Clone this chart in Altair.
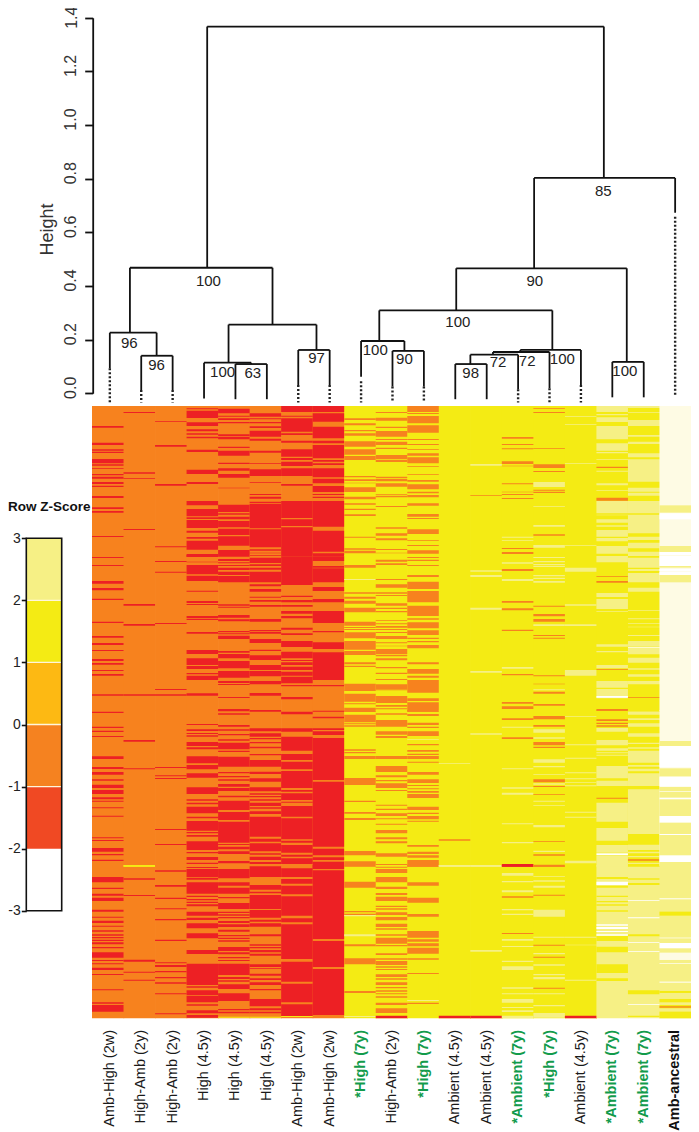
import altair as alt
import pandas as pd

FONT = "Liberation Sans"

# ---------- column labels ----------
labels = ["Amb-High (2w)", "High-Amb (2y)", "High-Amb (2y)", "High (4.5y)", "High (4.5y)", "High (4.5y)",
          "Amb-High (2w)", "Amb-High (2w)", "*High (7y)", "High-Amb (2y)", "*High (7y)", "Ambient (4.5y)",
          "Ambient (4.5y)", "*Ambient (7y)", "*High (7y)", "Ambient (4.5y)", "*Ambient (7y)", "*Ambient (7y)",
          "Amb-ancestral"]

# ---------- dendrogram (left, right, top, low-left, low-right) ----------
merge_left = [1, 2, 4, 5, 4.78, 7, 1.64, 9, 10, 12, 12.48, 13.2, 14.07, 9.58, 17, 12.03, 14.51, 4.10]
merge_right = [2.49, 3, 5.5, 6, 7.58, 8, 6.18, 10.38, 11, 13, 14, 15, 16, 15.09, 18, 17.46, 19, 16.73]
merge_top = [.226, .140, .114, .109, .256, .1615, .468, .195, .158, .109, .144, .154, .1615, .309, .117, .466, .8026, 1.367]
merge_low_l = [.093, .012, -.019, -.022, .114, .031, .226, .062, .025, -.022, .109, .144, .154, .195, -.015, .309, .466, .468]
merge_low_r = [.140, .012, .109, -.022, .1615, .031, .256, .158, .025, -.022, .015, .019, .031, .1615, -.015, .117, .673, .8026]

dot_leaf = [1, 2, 3, 7, 8, 9, 10, 11, 14, 15, 16, 19]
dot_from = [.093, .012, .012, .031, .031, .045, .025, .025, .015, .019, .031, .658]
dot_to = [-.034, -.034, -.034, -.034, -.034, -.034, -.034, -.034, -.034, -.034, -.034, -.012]

boot_text = ["100", "96", "96", "100", "63", "97", "85", "90", "100", "100", "90", "98", "72", "72", "100", "100"]
boot_x = [4.14, 1.62, 2.49, 4.59, 5.55, 7.58, 16.71, 14.53, 12.08, 9.45, 10.38, 12.49, 13.36, 14.29, 15.41, 17.4]
boot_h = [.419, .189, .106, .080, .075, .130, .754, .420, .265, .1615, .128, .075, .116, .120, .128, .084]

# ---------- legend ----------
legend_lo = [-3, -2, -1, 0, 1, 2]
legend_hi = [-2, -1, 0, 1, 2, 3]
legend_colors = ["#FFFFFF", "#F04923", "#F58220", "#FDB913", "#F4EB14", "#F6F085"]
legend_lines = [2, 1, 0, -1]

# ---------- heat map ----------
level_names = ["R", "O", "Y", "P", "C", "W"]
level_colors = ["#ED2024", "#F7821E", "#F4EB14", "#F6F085", "#FEFBE4", "#FFFFFF"]
section_start = [0, 465, 930, 1395]
row_first, row_last = 18, 1855

bases = ["OOOO"] * 8 + ["YYYY"] * 8 + ["YYYP", "YYYP", "CCCP"]

c01 = [{"R": [(78,83),(128,135),(148,152),(155,159),(177,190),(193,197),(205,207),(222,226),(230,236),(246,252),(257,261),(288,294),(322,327),(333,338),(408,411)]},
       {"R": [(6,9),(30,33),(78,86),(99,106),(131,135),(200,204),(243,248),(264,270),(285,288),(312,318),(324,329),(345,348),(357,362),(418,422)]},
       {"R": [(5,9),(50,54),(62,66),(78,81),(139,147),(171,177),(186,194),(208,212),(224,234),(240,252),(262,268),(272,275),(292,295),(317,320),(382,385),(390,393),(414,425),(432,436),(449,453)]},
       {"R": [(36,52),(68,72),(86,92),(98,108),(134,140),(155,158),(167,174),(182,185),(196,200),(208,212),(216,220),(224,228),(232,238),(246,250),(262,278),(285,288),(295,298),(308,315),(327,330),(373,376),(412,416),(420,440)]}]
c02 = [{"R": [(36,39),(217,221),(234,236),(387,390)]},
       {"R": [(147,152),(207,212),(418,422)]},
       {"R": [(90,95),(175,178)], "Y": [(465,470)]},
       {"Y": [(0,5)], "R": [(40,44),(90,93),(284,290),(320,323),(344,347)]}]
c03 = [{"R": [(64,66),(135,140),(252,257),(439,442)]},
       {"R": [(18,21),(50,53),(204,207),(402,405),(418,422)]},
       {"R": [(171,174),(196,199),(204,207),(357,360),(402,405)]},
       {"R": [(16,20),(60,65),(98,102),(130,133),(162,166),(224,228),(292,295),(300,306),(318,322),(336,340),(352,356),(385,388),(445,448)]}]
c04 = [{"R": [(25,28),(32,54),(67,78),(88,94),(100,104),(110,115),(149,156),(209,222),(246,252),(303,316),(327,349),(352,357),(360,384),(392,398),(411,416),(422,449),(462,470)]},
       {"R": [(0,6),(20,22),(30,58),(62,78),(107,110),(138,144),(147,150),(183,190),(192,195),(231,236),(285,297),(310,330),(333,342),(354,358),(362,375),(415,422)]},
       {"R": [(42,45),(58,63),(69,72),(76,80),(96,108),(112,118),(139,160),(165,178),(190,203),(232,252),(268,272),(278,283),(290,310),(320,325),(333,362),(366,370),(375,380),(394,420),(426,430),(441,450),(458,462)]},
       {"R": [(6,9),(12,36),(38,44),(52,86),(92,96),(102,106),(110,114),(118,124),(140,152),(158,165),(175,190),(205,220),(255,267),(296,360),(364,368),(376,390),(392,412),(418,422),(436,445),(450,458)]}]
c05 = [{"R": [(26,40),(47,50),(55,60),(66,70),(103,108),(110,118),(140,144),(152,167),(188,192),(205,212),(222,233),(263,265),(314,336),(340,344),(350,358),(363,382),(386,405),(409,437),(450,470)]},
       {"R": [(12,18),(22,25),(30,33),(38,45),(50,60),(63,82),(148,152),(155,158),(180,188),(193,199),(228,232),(235,238),(242,252),(288,293),(297,310),(318,340),(348,368),(378,384),(387,390),(426,429),(462,468)]},
       {"R": [(0,4),(10,14),(45,50),(58,62),(72,76),(88,92),(98,118),(122,126),(140,170),(186,190),(198,202),(208,212),(222,230),(234,243),(257,262),(272,300),(306,330),(335,398),(402,405),(410,418),(424,432),(453,460)]},
       {"R": [(12,40),(52,62),(68,86),(96,100),(114,132),(140,144),(148,152),(156,160),(168,174),(178,186),(194,200),(210,214),(218,222),(226,230),(246,258),(262,268),(276,280),(285,288),(296,330),(336,342),(346,350),(358,372),(385,408),(432,436),(440,445)], "Y": [(455,458)]}]
c06 = [{"R": [(40,50),(55,58),(66,70),(79,84),(92,110),(116,122),(152,158),(190,192),(208,228),(246,248),(282,285),(290,296),(305,310),(312,385),(388,442),(448,452),(458,460)]},
       {"R": [(0,2),(8,24),(28,33),(38,44),(50,82),(88,94),(102,110),(125,128),(135,140),(150,155),(192,200),(225,228),(230,236),(252,264),(284,288),(301,315),(330,345),(348,364),(378,388),(414,422)]},
       {"R": [(0,5),(55,64),(70,80),(84,88),(96,100),(110,115),(132,136),(150,170),(185,192),(205,215),(232,244),(250,254),(258,262),(268,272),(278,288),(292,296),(304,312),(320,380),(386,395),(400,424),(430,434),(440,450),(456,462)]},
       {"R": [(4,36),(60,74),(80,85),(90,132),(135,158),(164,170),(175,185),(208,214),(238,242),(246,250),(255,262),(266,272),(298,306),(310,312),(326,332),(340,345),(352,360),(372,376),(402,424),(430,436),(440,445)], "Y": [(455,458)]}]
c07 = [{"R": [(18,36),(47,50),(55,95),(100,105),(122,128),(148,170),(174,180),(185,198),(205,228),(252,257),(303,354),(358,378),(382,470)]},
       {"R": [(5,90),(122,126),(135,142),(150,155),(168,176),(183,190),(218,224),(235,240),(258,276),(290,310),(315,318),(322,330),(335,345),(350,362),(365,385),(390,394),(426,433)]},
       {"R": [(5,13),(55,65),(80,122),(132,150),(155,178),(183,234),(240,245),(250,270),(275,278),(288,320),(325,388),(392,398),(405,428),(434,440),(445,462)]},
       {"R": [(10,36),(42,56),(62,88),(94,152),(160,172),(178,282),(290,350),(356,412),(418,453)], "Y": [(453,456)]}]
c08 = [{"R": [(18,36),(40,65),(80,115),(122,130),(135,175),(180,185),(190,195),(205,232),(236,250),(258,276),(282,285),(290,294),(303,380),(392,455),(460,470)]},
       {"R": [(5,18),(33,38),(40,82),(96,108),(132,142),(168,204),(228,232),(262,282),(292,375),(390,394),(467,470)]},
       {"R": [(20,25),(55,60),(64,75),(84,210),(215,410),(416,436),(442,450),(455,476)]},
       {"R": [(0,12),(16,222),(228,306),(312,450)]}]
c09 = [{"O": [(55,60),(70,76),(90,94),(100,107),(124,140),(148,164),(168,180),(228,232),(238,243),(248,250),(262,276),(290,298),(310,314),(326,330),(343,348),(410,413),(445,449),(452,460)]},
       {"O": [(30,38),(112,116),(125,131),(137,146),(158,172),(200,212),(216,219),(222,225),(232,250),(258,284),(288,300),(322,328),(332,336),(386,408),(416,440),(445,448),(458,470)], "P": [(72,75)]},
       {"O": [(0,6),(14,37),(40,43),(46,50),(118,122),(126,130),(138,147),(204,225),(272,276),(306,311),(324,330),(423,436),(454,470)]},
       {"O": [(0,4),(50,68),(138,142),(146,150),(238,244),(280,298),(378,384)], "P": [(150,154),(208,214),(453,456)]}]
c10 = [{"O": [(36,39),(53,62),(80,84),(93,110),(117,120),(125,135),(143,147),(165,178),(180,186),(230,234),(236,244),(250,260),(283,286),(288,292),(318,321),(382,386),(400,407),(415,421),(447,450),(458,460)]},
       {"O": [(14,20),(25,30),(72,75),(88,98),(112,116),(120,123),(145,152),(158,162),(168,172),(196,198),(205,208),(213,218),(222,225),(231,234),(243,252),(262,265),(272,274),(282,298),(300,304),(310,316),(336,340),(353,357),(372,375),(388,402),(403,406),(423,444),(450,455),(460,463)]},
       {"O": [(10,14),(30,50),(64,74),(78,84),(138,147),(168,186),(196,202),(210,214),(220,234),(240,243),(284,287),(296,300),(310,318),(325,328),(341,344),(360,370),(382,388),(394,400),(430,440),(462,465)]},
       {"O": [(5,8),(12,24),(36,52),(65,72),(84,90),(95,108),(122,126),(130,134),(142,150),(156,166),(176,186),(190,194),(208,212),(218,236),(240,244),(265,270),(280,284),(288,300),(304,308),(312,315),(328,336),(340,344),(352,360),(366,370),(376,380),(385,388),(394,398),(413,420),(430,444)], "R": [(452,460)]}]
c11 = [{"O": [(18,36),(39,42),(48,70),(76,98),(117,120),(132,135),(147,149),(160,167),(172,190),(198,200),(222,224),(240,245),(253,268),(275,280),(285,292),(310,317),(342,350),(354,357),(388,402),(420,422),(435,438),(451,461)]},
       {"O": [(6,9),(14,18),(30,33),(60,66),(80,102),(108,142),(152,183),(190,194),(202,220),(226,240),(248,252),(258,262),(270,280),(322,328),(342,356),(362,368),(375,413),(430,438),(442,470)]},
       {"O": [(0,5),(12,18),(38,45),(50,54),(64,78),(102,106),(120,125),(131,135),(138,147),(155,158),(186,194),(208,219),(225,228),(235,238),(243,248),(252,264),(290,300),(308,312),(318,328),(332,335),(405,410),(425,432),(436,443),(450,470)], "P": [(88,90)]},
       {"O": [(0,5),(52,62),(98,113),(147,155),(198,218),(223,230),(235,244),(248,266),(280,284),(324,327),(413,417)], "P": [(405,408)]}]
c12 = [{},
       {},
       {"P": [(159,161),(465,470)], "O": [(388,392)]},
       {"P": [(0,5)], "R": [(452,460)]}]
c13 = [{"P": [(192,197)], "O": [(286,288)]},
       {"P": [(46,50),(60,66),(158,164),(348,353)]},
       {"P": [(70,74),(465,470)]},
       {"P": [(0,5),(255,260)], "R": [(452,460)]}]
c14 = [{"O": [(111,116),(132,135),(145,148),(184,192),(197,199),(250,253),(275,277),(282,285),(294,297),(444,447),(456,462)], "P": [(410,413),(420,422)]},
       {"P": [(22,26),(72,78),(336,341)], "O": [(42,48),(138,143),(160,166),(224,228),(357,361),(441,446),(454,462)]},
       {"O": [(25,30),(82,87)], "P": [(50,53),(175,178),(232,236),(248,254),(340,343),(396,400)], "R": [(462,470)]},
       {"R": [(0,5)], "O": [(94,98),(204,207)], "P": [(24,32),(48,52),(76,82),(132,136),(146,150),(222,227),(243,246),(287,291),(304,315),(367,371),(385,388),(402,413),(426,429),(436,441),(452,460)]}]
c15 = [{"O": [(24,26),(36,39),(145,147),(193,204),(213,216),(269,272),(275,279),(403,407)], "P": [(246,261),(318,320),(375,380),(435,443)]},
       {"P": [(6,9),(18,22),(27,30),(32,36),(60,64),(68,72),(78,83),(208,213),(403,406)], "O": [(152,155),(177,184),(192,200),(240,243),(248,251),(361,364),(386,388),(410,416),(447,452)]},
       {"O": [(18,28),(45,50),(96,106),(110,114),(208,217),(228,231),(252,254),(394,396),(433,437),(464,470)], "P": [(58,68),(82,86),(148,158),(168,172),(192,194),(220,224),(272,275),(285,287),(345,352),(422,426)]},
       {"O": [(0,5),(89,92),(239,242),(275,278),(368,371)], "P": [(34,36),(46,50),(62,68),(134,155),(215,218),(264,268),(298,302),(327,331),(336,343),(385,388),(420,424),(444,458)]}]
c16 = [{"P": [(48,50),(72,74),(190,192),(435,437)]},
       {"P": [(38,50),(148,152),(208,213),(345,362)]},
       {"P": [(18,20),(103,106),(143,146),(187,190),(205,208),(216,218),(226,229),(305,308),(320,323),(452,460)]},
       {"P": [(215,218),(239,241),(344,347)], "R": [(452,460)]}]
c17 = [{"P": [(18,36),(42,46),(52,66),(78,118),(130,152),(156,160),(178,180),(212,215),(250,256),(270,272),(303,340),(344,346),(358,368),(376,380),(390,410),(414,424),(438,461)], "O": [(200,204),(293,302)]},
       {"P": [(3,22),(114,126),(132,162),(168,170),(268,275),(288,292),(330,340),(378,398),(402,430)], "W": [(423,428)], "O": [(63,65),(78,83),(342,344),(462,467)]},
       {"O": [(0,2),(28,33),(38,42),(46,50),(263,266)], "P": [(54,65),(90,106),(115,122),(127,130),(134,137),(168,205),(212,228),(278,335),(354,392),(405,428),(436,470)], "W": [(430,435)]},
       {"Y": [(36,42),(62,68),(92,96),(108,112),(118,122),(136,140),(212,228),(245,262),(298,324),(340,348)], "W": [(50,60),(178,182),(186,192),(198,201),(208,212)]}]
c18 = [{"P": [(18,24),(36,38),(60,78),(105,110),(125,132),(160,172),(178,245),(263,275),(278,287),(303,340),(344,400),(410,420),(428,445),(455,468)]},
       {"P": [(8,38),(42,48),(54,82),(98,110),(165,167),(190,193),(204,206),(215,217),(240,243),(258,275),(278,298),(308,323),(340,344),(358,365),(378,388),(470,476)], "W": [(276,278)], "O": [(426,428)]},
       {"P": [(5,14),(25,30),(40,50),(70,80),(98,102),(112,116),(122,158),(165,170),(176,184),(190,228),(238,372),(404,420),(425,430),(438,442),(458,462)], "O": [(448,452)]},
       {"Y": [(0,5),(40,44),(54,60),(208,214),(376,388),(452,456)], "W": [(105,107),(157,160),(232,234),(258,260),(417,419)]}]
c19 = [{"P": [(316,338),(438,456)], "W": [(340,358),(456,465)]},
       {"W": [(3,33),(42,48),(50,60)], "P": [(33,38),(60,82)]},
       {"P": [(93,108),(175,200),(230,465)], "W": [(108,172),(200,230),(243,245),(263,268),(318,338),(372,375),(436,456)]},
       {"Y": [(140,152),(378,384),(402,412),(420,430),(440,460)], "O": [(424,428)], "W": [(100,103),(218,220),(234,250),(295,297),(350,353)], "C": [(263,285)]}]
columns = [c01, c02, c03, c04, c05, c06, c07, c08, c09, c10, c11, c12, c13, c14, c15, c16, c17, c18, c19]

# ---------- build tables from the arrays ----------
heat_rows = []
for c, col in enumerate(columns):
    x2 = min(c + 1.02, 19)
    for s, start in enumerate(section_start):
        heat_rows.append(dict(x=c, x2=x2, y=max(start, row_first), y2=min(start + 467, row_last), lev=bases[c][s]))
    for s, start in enumerate(section_start):
        for lev, stripes in col[s].items():
            for a, b in stripes:
                heat_rows.append(dict(x=c, x2=x2, y=start + a, y2=min(start + b, row_last), lev=lev))
heat_df = pd.DataFrame(heat_rows)

seg = []
for l, r, t, ll, lr in zip(merge_left, merge_right, merge_top, merge_low_l, merge_low_r):
    seg.append(dict(x=l, x2=r, y=t, y2=t))
    seg.append(dict(x=l, x2=l, y=ll, y2=t))
    seg.append(dict(x=r, x2=r, y=lr, y2=t))
seg_df = pd.DataFrame(seg)
dot_df = pd.DataFrame(dict(x=dot_leaf, x2=dot_leaf, y=dot_from, y2=dot_to))
boot_df = pd.DataFrame(dict(x=boot_x, h=boot_h, t=boot_text))
lab_df = pd.DataFrame(dict(leaf=list(range(1, 20)), t=labels))
lab_df["star"] = lab_df.t.str.startswith("*")
lab_df["bold"] = lab_df.star | lab_df.t.eq("Amb-ancestral")
legend_df = pd.DataFrame(dict(lo=legend_lo, hi=legend_hi, c=legend_colors, a=0, b=1))
line_df = pd.DataFrame(dict(z=legend_lines, a=0, b=1))
frame_df = pd.DataFrame(dict(lo=[-3], hi=[3], a=[0], b=[1]))

# ---------- scales (ranges are positions inside the 683 x 1124 view) ----------
leaf_scale = alt.Scale(domain=[0.4325, 19.505], range=[84, 683])
h_scale = alt.Scale(domain=[0, 1.4], range=[385.3, 9.7])
col_scale = alt.Scale(domain=[0, 19], range=[84, 683])
row_scale = alt.Scale(domain=[row_first, row_last], range=[398, 1010.3])
lx_scale = alt.Scale(domain=[0, 1], range=[18.3, 53.7])
lz_scale = alt.Scale(domain=[-3, 3], range=[902.7, 530.3])
color_scale = alt.Scale(domain=level_names, range=level_colors)

heat = alt.Chart(heat_df).mark_rect(strokeWidth=0).encode(
    x=alt.X("x:Q", scale=col_scale, axis=None), x2="x2:Q",
    y=alt.Y("y:Q", scale=row_scale, axis=None), y2="y2:Q",
    color=alt.Color("lev:N", scale=color_scale, legend=None),
    order=alt.Order("idx:Q"),
).transform_window(idx="row_number()")

height_axis = alt.Axis(orient="left", values=[0, .2, .4, .6, .8, 1.0, 1.2, 1.4],
                       labelExpr="datum.value >= 1.4 ? '' : format(datum.value, '.1f')",
                       offset=-84.7, grid=False,
                       domainColor="#111", domainWidth=1.8, tickColor="#111", tickWidth=1.8, tickSize=8,
                       labelAngle=270, labelAlign="center", labelBaseline="bottom", labelPadding=6, labelOffset=-6,
                       labelFontSize=16, labelColor="#333", labelFont=FONT,
                       title="Height", titleFontSize=18, titleFont=FONT, titleFontWeight="normal", titleColor="#333",
                       titleAngle=270, titleAlign="center", titleBaseline="middle", titleX=-45.5, titleY=221)
dend = alt.Chart(seg_df).mark_rule(color="#111", strokeWidth=1.8).encode(
    x=alt.X("x:Q", scale=leaf_scale, axis=None), x2="x2:Q",
    y=alt.Y("y:Q", scale=h_scale, axis=height_axis), y2="y2:Q")
dots = alt.Chart(dot_df).mark_rule(color="#222", strokeWidth=2.4, strokeDash=[2, 2]).encode(
    x=alt.X("x:Q", scale=leaf_scale, axis=None), x2="x2:Q",
    y=alt.Y("y:Q", scale=h_scale, axis=None), y2="y2:Q")
boot = alt.Chart(boot_df).mark_text(font=FONT, fontSize=15, color="#222", baseline="middle", align="center").encode(
    x=alt.X("x:Q", scale=leaf_scale, axis=None), y=alt.Y("h:Q", scale=h_scale, axis=None), text="t:N")
top_tick = alt.Chart(pd.DataFrame(dict(h=[1.4], t=["1.4"]))).mark_text(
    font=FONT, fontSize=16, color="#333", angle=270, align="center", baseline="bottom", dy=2).encode(
    x=alt.value(70), y=alt.Y("h:Q", scale=h_scale, axis=None), text="t:N")


def label_layer(rows, weight, color):
    return alt.Chart(rows).mark_text(font=FONT, fontSize=14.5, fontWeight=weight, color=color, angle=270,
                                     align="right", baseline="middle").encode(
        x=alt.X("leaf:Q", scale=leaf_scale, axis=None), y=alt.value(1022), text="t:N")


lab_plain = label_layer(lab_df[~lab_df.bold], "normal", "#1a1a1a")
lab_green = label_layer(lab_df[lab_df.star], "bold", "#129B4B")
lab_black = label_layer(lab_df[lab_df.bold & ~lab_df.star], "bold", "#111111")

z_axis = alt.Axis(orient="left", values=[-3, -2, -1, 0, 1, 2, 3], labelExpr="'' + datum.value", offset=-18.3,
                  grid=False, domain=False,
                  tickColor="#111", tickWidth=1.6, tickSize=5, labelPadding=1, labelFontSize=14, labelColor="#222",
                  labelFont=FONT, title=None)
leg = alt.Chart(legend_df).mark_rect(strokeWidth=0).encode(
    x=alt.X("a:Q", scale=lx_scale, axis=None), x2="b:Q",
    y=alt.Y("lo:Q", scale=lz_scale, axis=z_axis), y2="hi:Q",
    fill=alt.Fill("c:N", scale=None))
leg_lines = alt.Chart(line_df).mark_rule(color="#FFF6DC", strokeWidth=1.3).encode(
    x=alt.X("a:Q", scale=lx_scale, axis=None), x2="b:Q",
    y=alt.Y("z:Q", scale=lz_scale, axis=None))
leg_frame = alt.Chart(frame_df).mark_rect(fillOpacity=0, stroke="#111", strokeWidth=1.6).encode(
    x=alt.X("a:Q", scale=lx_scale, axis=None), x2="b:Q",
    y=alt.Y("lo:Q", scale=lz_scale, axis=None), y2="hi:Q")
leg_title = alt.Chart(pd.DataFrame(dict(t=["Row Z-Score"]))).mark_text(
    font=FONT, fontSize=13.5, fontWeight="bold", color="#111", align="left", baseline="middle").encode(
    x=alt.value(0), y=alt.value(499), text="t:N")

chart = alt.layer(heat, dend, dots, boot, top_tick, lab_plain, lab_green, lab_black, leg, leg_lines, leg_frame, leg_title
                  ).resolve_scale(x="independent", y="independent").properties(
    width=683, height=1124, padding=0, autosize=alt.AutoSizeParams(type="none"), background="white"
).configure_view(stroke=None)

chart.save("out.html", embed_options={"renderer": "svg", "actions": False})
